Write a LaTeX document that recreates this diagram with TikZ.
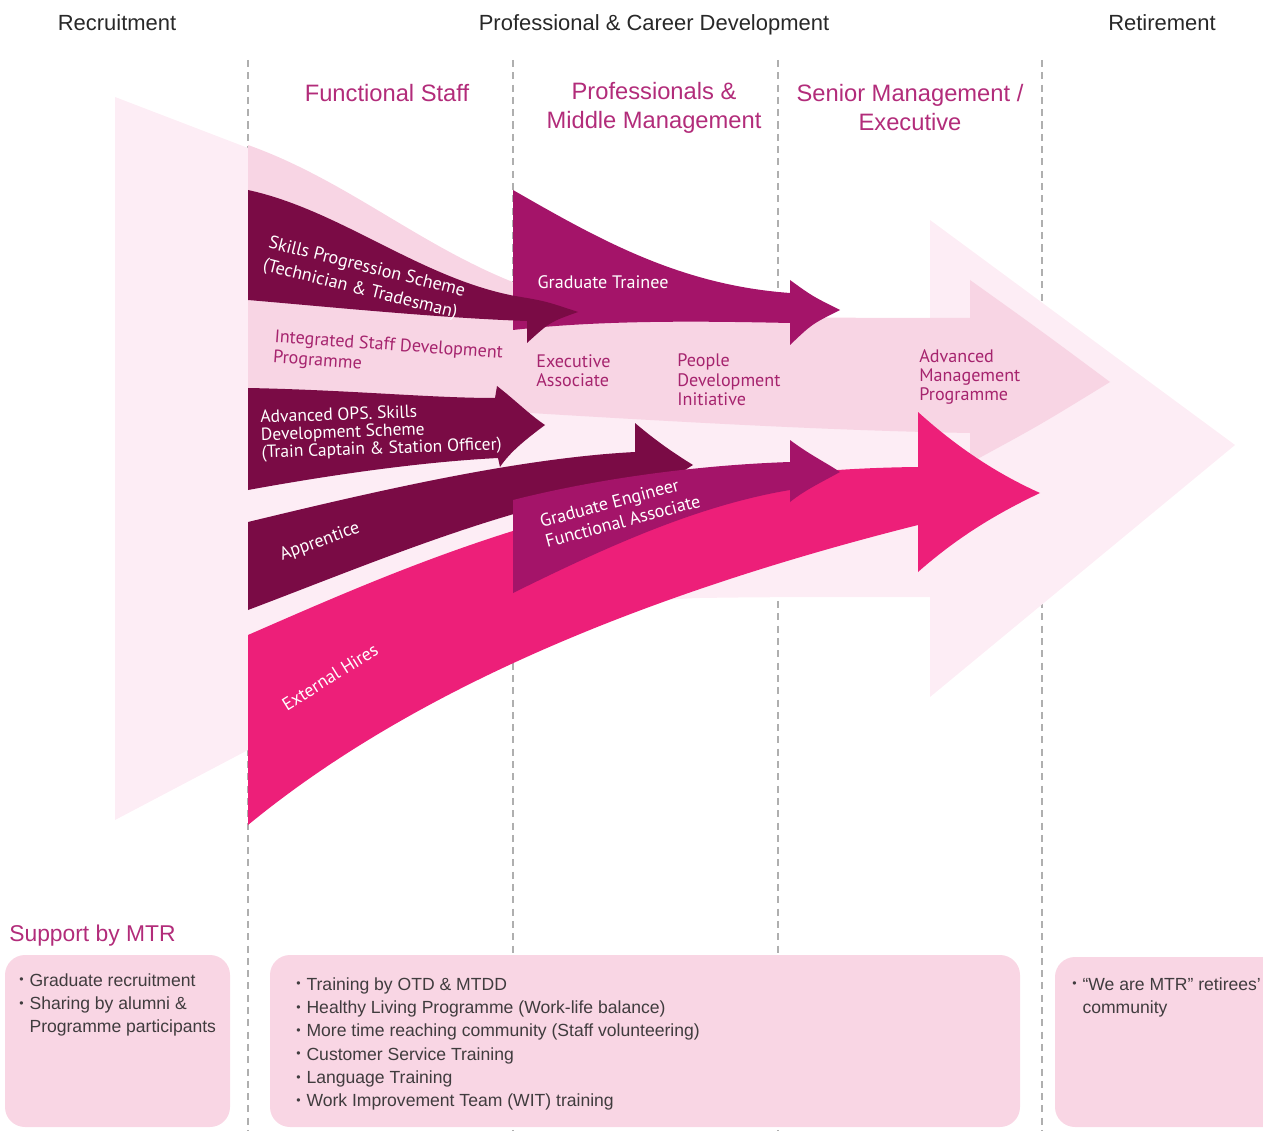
\documentclass[tikz,border=0pt]{standalone}
\usepackage{fontspec}
\setmainfont{Liberation Sans}
\newfontfamily\bandfont{PT Sans}
\usepackage{xcolor}
\usetikzlibrary{positioning}

\definecolor{palepink}{RGB}{253,237,245}
\definecolor{lightpink}{RGB}{248,213,228}
\definecolor{plum}{RGB}{122,11,69}
\definecolor{berry}{RGB}{164,20,105}
\definecolor{hotpink}{RGB}{237,31,121}
\definecolor{titlemag}{RGB}{178,44,122}
\definecolor{labelmag}{RGB}{166,36,110}
\definecolor{boxpink}{RGB}{249,214,228}
\definecolor{dashgray}{RGB}{175,175,175}
\definecolor{headgray}{RGB}{40,40,40}
\definecolor{bodytext}{RGB}{64,60,62}

% bullet used in the support boxes
\newcommand{\dotitem}{\makebox[5.8pt][l]{\raisebox{0.25ex}{\scriptsize\textbullet}}}
\newcommand{\dotindent}{\hspace*{5.8pt}}

\begin{document}
\begin{tikzpicture}[x=0.02cm,y=-0.02cm]
  \tikzstyle{heading} = [font=\fontsize{12.5}{15}\selectfont, text=headgray]
  \tikzstyle{level} = [font=\fontsize{13.5}{16.5}\selectfont, text=titlemag, align=center]
  \tikzstyle{onband} = [font=\bandfont\fontsize{10.3}{11}\selectfont, text=white, align=left, inner sep=0pt]
  \tikzstyle{inband} = [onband, text=labelmag]
  \tikzstyle{divider} = [dashgray, line width=0.6pt, dash pattern=on 4pt off 3pt]
  \tikzstyle{supbox} = [fill=boxpink, rounded corners=0.4cm]
  \tikzstyle{suptext} = [font=\fontsize{10}{13.3}\selectfont, text=bodytext, align=left, anchor=north west, inner sep=0pt]

  \useasboundingbox (0,0) rectangle (1263,1131);

  % column dividers
  \foreach \x in {248,513,778,1042}
    \draw[divider] (\x,60) -- (\x,1131);

  % big pale arrow behind everything
  \fill[palepink] (115,97) -- (248,148) -- (513,300) -- (930,325) -- (930,220)
    -- (1235,445) -- (930,697) -- (930,597)
    .. controls (820,597) and (760,597) .. (700,598)
    .. controls (600,600) and (400,650) .. (248,750) -- (115,820) -- cycle;

  % light band: integrated staff development -> advanced management
  \fill[lightpink] (248,145) .. controls (360,185) and (440,265) .. (560,298)
    .. controls (650,318) and (800,318) .. (970,318) -- (970,280)
    .. controls (1040,330) .. (1110,382) .. controls (1040,425) .. (970,463)
    -- (970,433) .. controls (800,430) and (600,418) .. (248,395) -- cycle;

  % graduate trainee
  \fill[berry] (513,190) .. controls (600,240) and (680,285) .. (790,293)
    -- (790,280) .. controls (812,296) .. (840,310) .. controls (812,324) .. (790,345)
    -- (790,323) .. controls (700,321) and (600,320) .. (513,330) -- cycle;

  % skills progression scheme
  \fill[plum] (248,190) .. controls (340,210) and (420,278) .. (515,296)
    .. controls (545,301) .. (578,312) .. controls (550,322) .. (527,343)
    -- (527,321) .. controls (440,318) and (330,307) .. (248,300) -- cycle;

  % advanced ops skills development scheme
  \fill[plum] (248,388) .. controls (350,390) and (430,398) .. (495,398)
    -- (497,386) .. controls (515,400) and (530,415) .. (545,425)
    .. controls (525,440) and (510,452) .. (500,467)
    -- (498,458) .. controls (420,462) and (330,475) .. (248,490) -- cycle;

  % apprentice
  \fill[plum] (248,522) .. controls (380,490) and (520,458) .. (635,452)
    -- (635,423) .. controls (655,440) and (672,452) .. (693,465)
    .. controls (672,478) .. (650,500)
    -- (650,485) .. controls (520,500) and (380,560) .. (248,610) -- cycle;

  % external hires
  \fill[hotpink] (248,635) .. controls (420,560) and (620,470) .. (918,467)
    -- (918,412) .. controls (960,450) and (1000,475) .. (1040,493)
    .. controls (1000,512) and (960,535) .. (918,572)
    -- (918,525) .. controls (620,600) and (400,700) .. (248,825) -- cycle;

  % graduate engineer / functional associate
  \fill[berry] (513,500) .. controls (600,478) and (700,465) .. (790,462)
    -- (790,440) .. controls (810,455) and (825,462) .. (840,472)
    .. controls (822,482) and (805,490) .. (790,502)
    -- (790,490) .. controls (700,505) and (610,545) .. (513,593) -- cycle;

  % labels on the arrows
  \node[onband, rotate=-14, font=\bandfont\fontsize{10.3}{13}\selectfont] (skills) at (364,279)
    {Skills Progression Scheme\\(Technician \& Tradesman)};
  \node[inband, rotate=-4, font=\bandfont\fontsize{10.3}{11.6}\selectfont] (isdp) at (388,356)
    {Integrated Staff Development\\Programme};
  \node[onband, rotate=2, font=\bandfont\fontsize{10}{10}\selectfont] (advops) at (381,432)
    {Advanced OPS. Skills\\Development Scheme\\(Train Captain \& Station Officer)};
  \node[onband, rotate=20] (apprentice) at (320,542) {Apprentice};
  \node[onband, rotate=32] (external) at (330,677) {External Hires};
  \node[onband] (gradtrainee) at (603,282) {Graduate Trainee};
  \node[inband, anchor=west] (execassoc) at (536,371) {Executive\\Associate};
  \node[inband, anchor=west] (pdi) at (677,380) {People\\Development\\Initiative};
  \node[inband, anchor=west] (amp) at (919,377) {Advanced\\Management\\Programme};
  \node[onband, rotate=15, font=\bandfont\fontsize{10.3}{12}\selectfont] (gradeng) at (620,511)
    {Graduate Engineer\\Functional Associate};

  % stage headings
  \node[heading] (recruit) at (117,23) {Recruitment};
  \node[heading] (career) at (654,25) {Professional \& Career Development};
  \node[heading] (retire) at (1162,23) {Retirement};

  \node[level] (functional) at (387,93) {Functional Staff};
  \node[level] (middle) at (654,108) {Professionals \&\\Middle Management};
  \node[level] (senior) at (910,108) {Senior Management /\\Executive};

  % support boxes
  \node[font=\fontsize{13}{15}\selectfont, text=titlemag, anchor=west, inner sep=0pt] (support) at (9,936) {Support by MTR};

  \fill[supbox] (5,955) rectangle (230,1127);
  \fill[supbox] (270,955) rectangle (1020,1127);
  \fill[supbox] (1055,957) rectangle (1290,1127);

  \node[suptext] (recruitlist) at (19,973)
    {\dotitem Graduate recruitment\\\dotitem Sharing by alumni \&\\\dotindent Programme participants};
  \node[suptext] (careerlist) at (296,977)
    {\dotitem Training by OTD \& MTDD\\
     \dotitem Healthy Living Programme (Work-life balance)\\
     \dotitem More time reaching community (Staff volunteering)\\
     \dotitem Customer Service Training\\
     \dotitem Language Training\\
     \dotitem Work Improvement Team (WIT) training};
  \node[suptext] (retirelist) at (1072,977)
    {\dotitem “We are MTR” retirees’\\\dotindent community};
\end{tikzpicture}
\end{document}
